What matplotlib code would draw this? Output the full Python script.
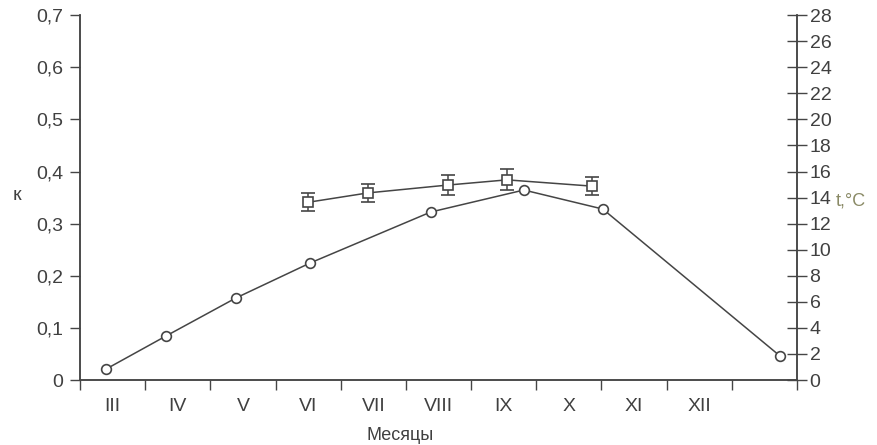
import matplotlib
matplotlib.use("Agg")
import matplotlib.pyplot as plt
from matplotlib.ticker import FuncFormatter

plt.rcParams['font.family'] = ['Liberation Sans', 'DejaVu Sans']

# месяцы (подписи между делениями)
months = ['III', 'IV', 'V', 'VI', 'VII', 'VIII', 'IX', 'X', 'XI', 'XII']

# температура воды, t °C (кружки), x - положение в месяцах от начала марта
t_x = [0.40, 1.32, 2.39, 3.53, 5.38, 6.81, 8.02, 10.74]
t_val = [0.84, 3.38, 6.29, 8.98, 12.89, 14.58, 13.12, 1.84]

# коэффициент к (квадраты) с погрешностью
k_x = [3.50, 4.42, 5.64, 6.55, 7.85]
k_val = [0.341, 0.359, 0.374, 0.384, 0.372]
k_err = [0.017, 0.018, 0.019, 0.020, 0.018]

col = '#454545'
txt = '#404040'

fig = plt.figure(figsize=(8.77, 4.45), dpi=100)
ax = fig.add_axes([0.0912, 0.146, 0.8176, 0.820])
ax2 = ax.twinx()

ax.errorbar(k_x, k_val, yerr=k_err, color=col, lw=1.1, marker='s', ms=7.5,
            mfc='white', mec=col, mew=1.2, capsize=5, elinewidth=1.1, zorder=3)
ax2.plot(t_x, t_val, color=col, lw=1.1, marker='o', ms=7,
         mfc='white', mec=col, mew=1.2, zorder=3)

ax.set_xlim(0, 11)
ax.set_ylim(0, 0.7)
ax2.set_ylim(0, 28)

ax.set_xticks(range(12))
ax.set_xticklabels([])
ax.set_xticks([i + 0.5 for i in range(len(months))], minor=True)
ax.set_xticklabels(months, minor=True, fontsize=14, color=txt)
ax.tick_params(axis='x', which='major', direction='out', length=7, width=1, colors=col)
ax.tick_params(axis='x', which='minor', length=0, pad=13)

ax.set_yticks([i / 10 for i in range(8)])
ax.yaxis.set_major_formatter(FuncFormatter(
    lambda v, p: '0' if abs(v) < 1e-9 else ('%.1f' % v).replace('.', ',')))
ax.tick_params(axis='y', direction='out', length=7, width=1, colors=col,
               labelsize=14, labelcolor=txt, pad=5)

ax2.set_yticks(range(0, 29, 2))
ax2.tick_params(axis='y', direction='inout', length=14, width=1, colors=col,
                labelsize=14, labelcolor=txt, pad=2)

for a in (ax, ax2):
    a.spines['top'].set_visible(False)
    for s in ('left', 'right', 'bottom'):
        a.spines[s].set_color(col)
        a.spines[s].set_linewidth(1.1)

ax.set_xlabel('Месяцы', fontsize=13, color=txt)
ax.xaxis.set_label_coords(0.446, -0.128)
ax.set_ylabel('к', fontsize=14, color=txt, rotation=0, va='center')
ax.yaxis.set_label_coords(-0.088, 0.505)
ax2.set_ylabel('t,°C', fontsize=13, color='#8a8a66', rotation=0, va='center', ha='left')
ax2.yaxis.set_label_coords(1.054, 0.49)

fig.savefig('out.png', dpi=100)
